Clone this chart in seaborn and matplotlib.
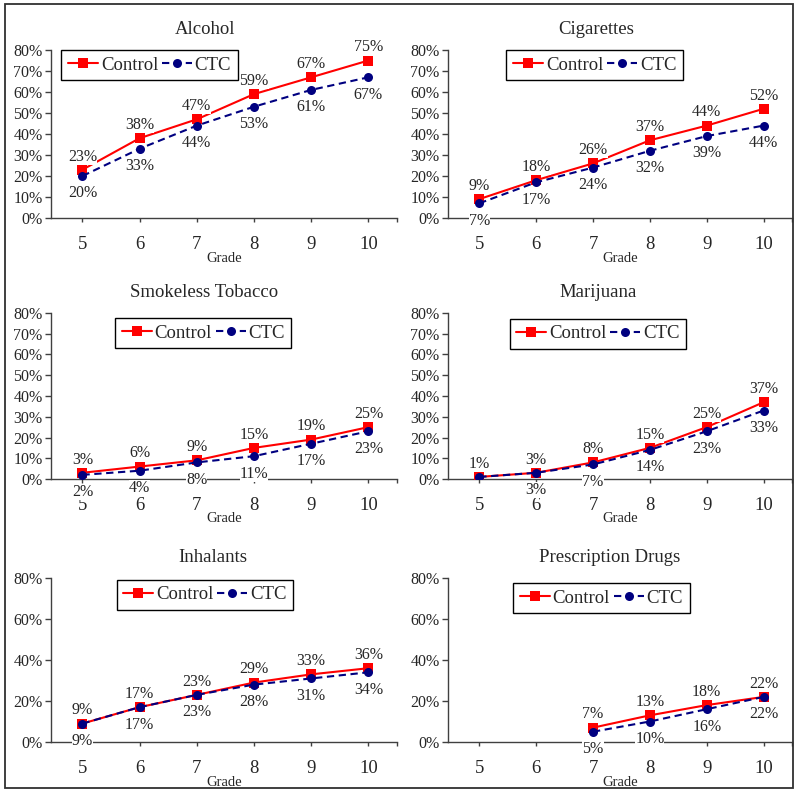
import matplotlib
matplotlib.use("Agg")
import matplotlib.pyplot as plt
from matplotlib.lines import Line2D
from matplotlib.patches import Rectangle
import numpy as np
import pandas as pd
import seaborn as sns

# ---------------- data ----------------
grades = ["5", "6", "7", "8", "9", "10"]
titles = ["Alcohol", "Cigarettes", "Smokeless Tobacco", "Marijuana",
          "Inhalants", "Prescription Drugs"]

alcohol_control = [23, 38, 47, 59, 67, 75]
alcohol_ctc = [20, 33, 44, 53, 61, 67]
cigarettes_control = [9, 18, 26, 37, 44, 52]
cigarettes_ctc = [7, 17, 24, 32, 39, 44]
smokeless_control = [3, 6, 9, 15, 19, 25]
smokeless_ctc = [2, 4, 8, 11, 17, 23]
marijuana_control = [1, 3, 8, 15, 25, 37]
marijuana_ctc = [1, 3, 7, 14, 23, 33]
inhalants_control = [9, 17, 23, 29, 33, 36]
inhalants_ctc = [9, 17, 23, 28, 31, 34]
prescription_control = [np.nan, np.nan, 7, 13, 18, 22]
prescription_ctc = [np.nan, np.nan, 5, 10, 16, 22]

controls = [alcohol_control, cigarettes_control, smokeless_control,
            marijuana_control, inhalants_control, prescription_control]
ctcs = [alcohol_ctc, cigarettes_ctc, smokeless_ctc,
        marijuana_ctc, inhalants_ctc, prescription_ctc]
ytick_steps = [10, 10, 10, 10, 20, 20]
hidden_labels = {("Marijuana", "CTC", 0)}

# ---------------- style ----------------
sns.set_theme(style="white")
plt.rcParams["font.family"] = ["Liberation Serif", "DejaVu Serif"]

RED = "#FF0000"
NAVY = "#000080"
AXC = "#404040"

fig = plt.figure(figsize=(8.0, 7.95), dpi=100)
W, H = 800, 795

col_x = [(51, 397), (448, 792)]
row_y = [(50, 218), (313, 479), (578, 742)]
legend_anchor = [(0.03, 1.0), (0.17, 1.0), (0.185, 0.97), (0.18, 0.965),
                 (0.19, 0.99), (0.19, 0.97)]
title_x = [0.445, 0.43, 0.442, 0.436, 0.468, 0.47]

fig.patches.append(Rectangle((5 / W, 1 - 788 / H), 788 / W, 784 / H,
                             transform=fig.transFigure, fill=False,
                             edgecolor="#303030", linewidth=1.3))

for i, title in enumerate(titles):
    r, c = divmod(i, 2)
    x0, x1 = col_x[c]
    y0, y1 = row_y[r]
    ax = fig.add_axes([x0 / W, 1 - y1 / H, (x1 - x0) / W, (y1 - y0) / H])
    ax_h = y1 - y0

    df = pd.DataFrame({
        "pos": list(range(6)) * 2,
        "value": list(controls[i]) + list(ctcs[i]),
        "Group": ["Control"] * 6 + ["CTC"] * 6,
    })
    sns.lineplot(data=df, x="pos", y="value", hue="Group", style="Group",
                 palette={"Control": RED, "CTC": NAVY},
                 markers={"Control": "s", "CTC": "o"},
                 dashes={"Control": "", "CTC": (3.5, 2.2)},
                 markersize=6.5, linewidth=1.5, markeredgewidth=0,
                 ax=ax, legend=False, zorder=3)

    # data labels
    for grp, vals, off in (("Control", controls[i], 9.5),
                           ("CTC", ctcs[i], -12.5)):
        for j, v in enumerate(vals):
            if np.isnan(v) or (title, grp, j) in hidden_labels:
                continue
            ax.annotate(f"{v:.0f}%", (j, v), xytext=(0, off),
                        textcoords="offset points", ha="center",
                        va="center", fontsize=11.5, annotation_clip=False,
                        zorder=5,
                        bbox=dict(boxstyle="square,pad=0.0", fc="white",
                                  ec="none"))

    ax.set_xlim(-0.55, 5.5)
    ax.set_ylim(0, 80)
    step = ytick_steps[i]
    yt = np.arange(0, 81, step)
    ax.set_yticks(yt)
    ax.set_yticklabels([f"{t}%" for t in yt], fontsize=11.5)
    ax.set_xticks(list(range(6)) + [5.5])
    ax.set_xticklabels(grades + [""], fontsize=13.5)
    ax.tick_params(axis="y", direction="out", length=4, width=1,
                   color=AXC, pad=2, left=True)
    ax.tick_params(axis="x", direction="out", length=3, width=1,
                   color=AXC, pad=10, bottom=True)
    ax.set_xlabel("")
    ax.set_ylabel("")
    ax.text(0.5, -40 / ax_h, "Grade", transform=ax.transAxes,
            ha="center", va="center", fontsize=10.5)
    ax.text(title_x[i], 1 + 20 / ax_h, title, transform=ax.transAxes,
            ha="center", va="center", fontsize=13.5)

    for s in ("top", "right"):
        ax.spines[s].set_visible(False)
    for s in ("left", "bottom"):
        ax.spines[s].set_color(AXC)
        ax.spines[s].set_linewidth(1.0)
    ax.grid(False)
    ax.set_facecolor("white")

    handles = [
        Line2D([], [], color=RED, marker="s", markersize=7, lw=1.5,
               markeredgewidth=0),
        Line2D([], [], color=NAVY, marker="o", markersize=6.5, lw=1.5,
               ls=(0, (3.5, 2.2)), markeredgewidth=0),
    ]
    leg = ax.legend(handles, ["Control", "CTC"], loc="upper left",
                    bbox_to_anchor=legend_anchor[i], ncol=2, fontsize=13.5,
                    frameon=True, fancybox=False, framealpha=1,
                    edgecolor="black", borderpad=0.35, handlelength=1.6,
                    handletextpad=0.15, columnspacing=0.2,
                    borderaxespad=0)
    leg.get_frame().set_linewidth(1.0)
    leg.set_zorder(6)

fig.savefig("out.png", dpi=100, facecolor="white")
